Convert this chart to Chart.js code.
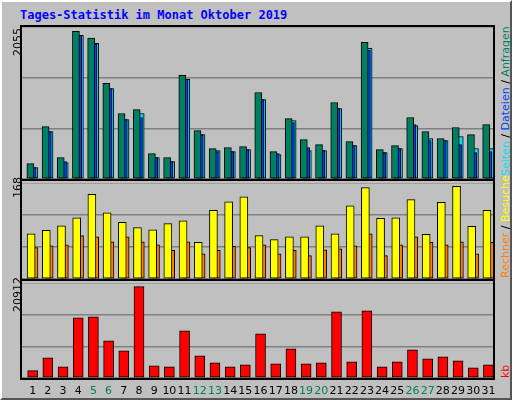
<!DOCTYPE html>
<html>
<head>
<meta charset="utf-8">
<script src="https://cdn.jsdelivr.net/npm/chart.js@4"></script>
<style>
  body { margin: 0; background: #fff; }
  #wrap { position: relative; width: 512px; height: 400px; background: #c0c0c0; box-sizing: border-box;
          border-top: 2px solid #fff; border-left: 2px solid #fff; border-right: 2px solid #555; border-bottom: 2px solid #555; }
  .box { position: absolute; border: 2px solid #000; box-sizing: border-box; }
  .panel { position: absolute; }
  .txt { position: absolute; font-family: "DejaVu Sans", sans-serif; font-size: 11px; white-space: nowrap; }
  .rot { transform-origin: left top; transform: rotate(-90deg); }
  #title { left: 18px; top: 6px; font-family: "DejaVu Sans Mono", monospace; font-weight: bold; font-size: 12px; color: #0000ff; }
  .xl { position: absolute; top: 382px; width: 16px; text-align: center; font-family: "DejaVu Sans", sans-serif; font-size: 11px; }
</style>
</head>
<body>
<div id="wrap">
  <div id="title" class="txt">Tages-Statistik im Monat Oktober 2019</div>
  <div class="box" style="left:18px;top:23px;width:475px;height:156px"></div>
  <div class="box" style="left:18px;top:177px;width:475px;height:102px"></div>
  <div class="box" style="left:18px;top:277px;width:475px;height:101px"></div>
  <div class="panel" style="left:20px;top:25px;width:471px;height:152px"><canvas id="c1"></canvas></div>
  <div class="panel" style="left:20px;top:181px;width:471px;height:96px"><canvas id="c2"></canvas></div>
  <div class="panel" style="left:20px;top:281px;width:471px;height:95px"><canvas id="c3"></canvas></div>
  <div class="txt rot" style="left:9px;top:54px">2055</div>
  <div class="txt rot" style="left:9px;top:196px">168</div>
  <div class="txt rot" style="left:9px;top:310px">20912</div>
  <div class="txt rot" style="left:497px;top:174px"><span style="color:#00e0ff">Seiten</span> / <span style="color:#0040ff">Dateien</span> / <span style="color:#008060">Anfragen</span></div>
  <div class="txt rot" style="left:497px;top:276px"><span style="color:#ff8000">Rechner</span> / <span style="color:#ffff00">Besuche</span></div>
  <div class="txt rot" style="left:497px;top:376px;color:#ff0000">kb</div>
  <div id="xlabels"></div>
</div>
<script>
const days = Array.from({length: 31}, (_, i) => i + 1);
const weekend = [5, 6, 12, 13, 19, 20, 26, 27];

const hits  = [208, 709, 289, 1996, 1906, 1292, 885, 939, 343, 289, 1400, 655, 411, 425, 438, 1170, 370, 817, 533, 465, 1034, 506, 1847, 397, 452, 831, 641, 546, 696, 601, 736];
const files = [154, 641, 235, 1942, 1820, 1224, 804, 831, 289, 235, 1346, 601, 370, 370, 397, 1075, 343, 763, 425, 384, 953, 452, 1739, 357, 411, 736, 519, 519, 465, 357, 370];
const pages = [154, 641, 221, 1942, 1834, 1224, 804, 885, 289, 235, 1346, 601, 384, 370, 397, 1075, 330, 790, 384, 384, 953, 452, 1766, 357, 411, 723, 546, 519, 574, 411, 411];
const visits = [79, 85, 93, 107, 148, 116, 99, 90, 86, 97, 102, 64, 120, 135, 144, 76, 69, 74, 74, 93, 79, 128, 160, 106, 107, 139, 78, 134, 162, 92, 120];
const hosts  = [55, 58, 60, 76, 74, 65, 74, 65, 60, 50, 65, 44, 50, 57, 55, 60, 44, 50, 41, 51, 53, 58, 79, 41, 60, 74, 64, 60, 65, 44, 64];
const kbytes = [1673, 4639, 2585, 13764, 13992, 8517, 6236, 20912, 2814, 2585, 10798, 5095, 3498, 2585, 3042, 10114, 3270, 6692, 3270, 3498, 15133, 3726, 15361, 2585, 3726, 6464, 4411, 4867, 3954, 2357, 3042];

function pts(values, shift) {
    return values.map((v, i) => ({x: days[i] + shift, y: v}));
}

function bars(values, shift, color, width) {
    return {
        data: pts(values, shift),
        backgroundColor: color,
        borderColor: '#000',
        borderWidth: 1,
        borderSkipped: false,
        barThickness: width,
        grouped: false
    };
}

function makeChart(id, datasets, max) {
    new Chart(document.getElementById(id), {
        type: 'bar',
        data: { datasets: datasets },
        options: {
            responsive: true,
            maintainAspectRatio: false,
            animation: false,
            layout: { padding: 0 },
            plugins: { legend: { display: false }, tooltip: { enabled: false } },
            scales: {
                x: { type: 'linear', min: 0.3, max: 31.3, offset: false, bounds: 'ticks', display: false },
                y: {
                    min: 0, max: max,
                    ticks: { display: false, stepSize: max / 3 },
                    grid: { color: '#808080', drawTicks: false, lineWidth: 1.5 },
                    border: { display: false }
                }
            }
        }
    });
}

makeChart('c1', [
    bars(hits, -0.15, '#008060', 7),
    bars(files, 0.0, '#0040ff', 7),
    bars(pages, 0.08, '#00e0ff', 8)
], 2055);

makeChart('c2', [
    bars(visits, -0.1, '#ffff00', 8),
    bars(hosts, 0.12, '#ff8000', 7)
], 168);

makeChart('c3', [
    bars(kbytes, 0.0, '#ff0000', 10)
], 21750);

// day labels under the panels
const xl = document.getElementById('xlabels');
days.forEach(d => {
    const el = document.createElement('div');
    el.className = 'xl';
    el.textContent = d;
    el.style.left = (20 + (d - 0.3) * 471 / 31 - 8) + 'px';
    el.style.color = weekend.includes(d) ? '#008060' : '#000';
    xl.appendChild(el);
});
</script>
</body>
</html>
